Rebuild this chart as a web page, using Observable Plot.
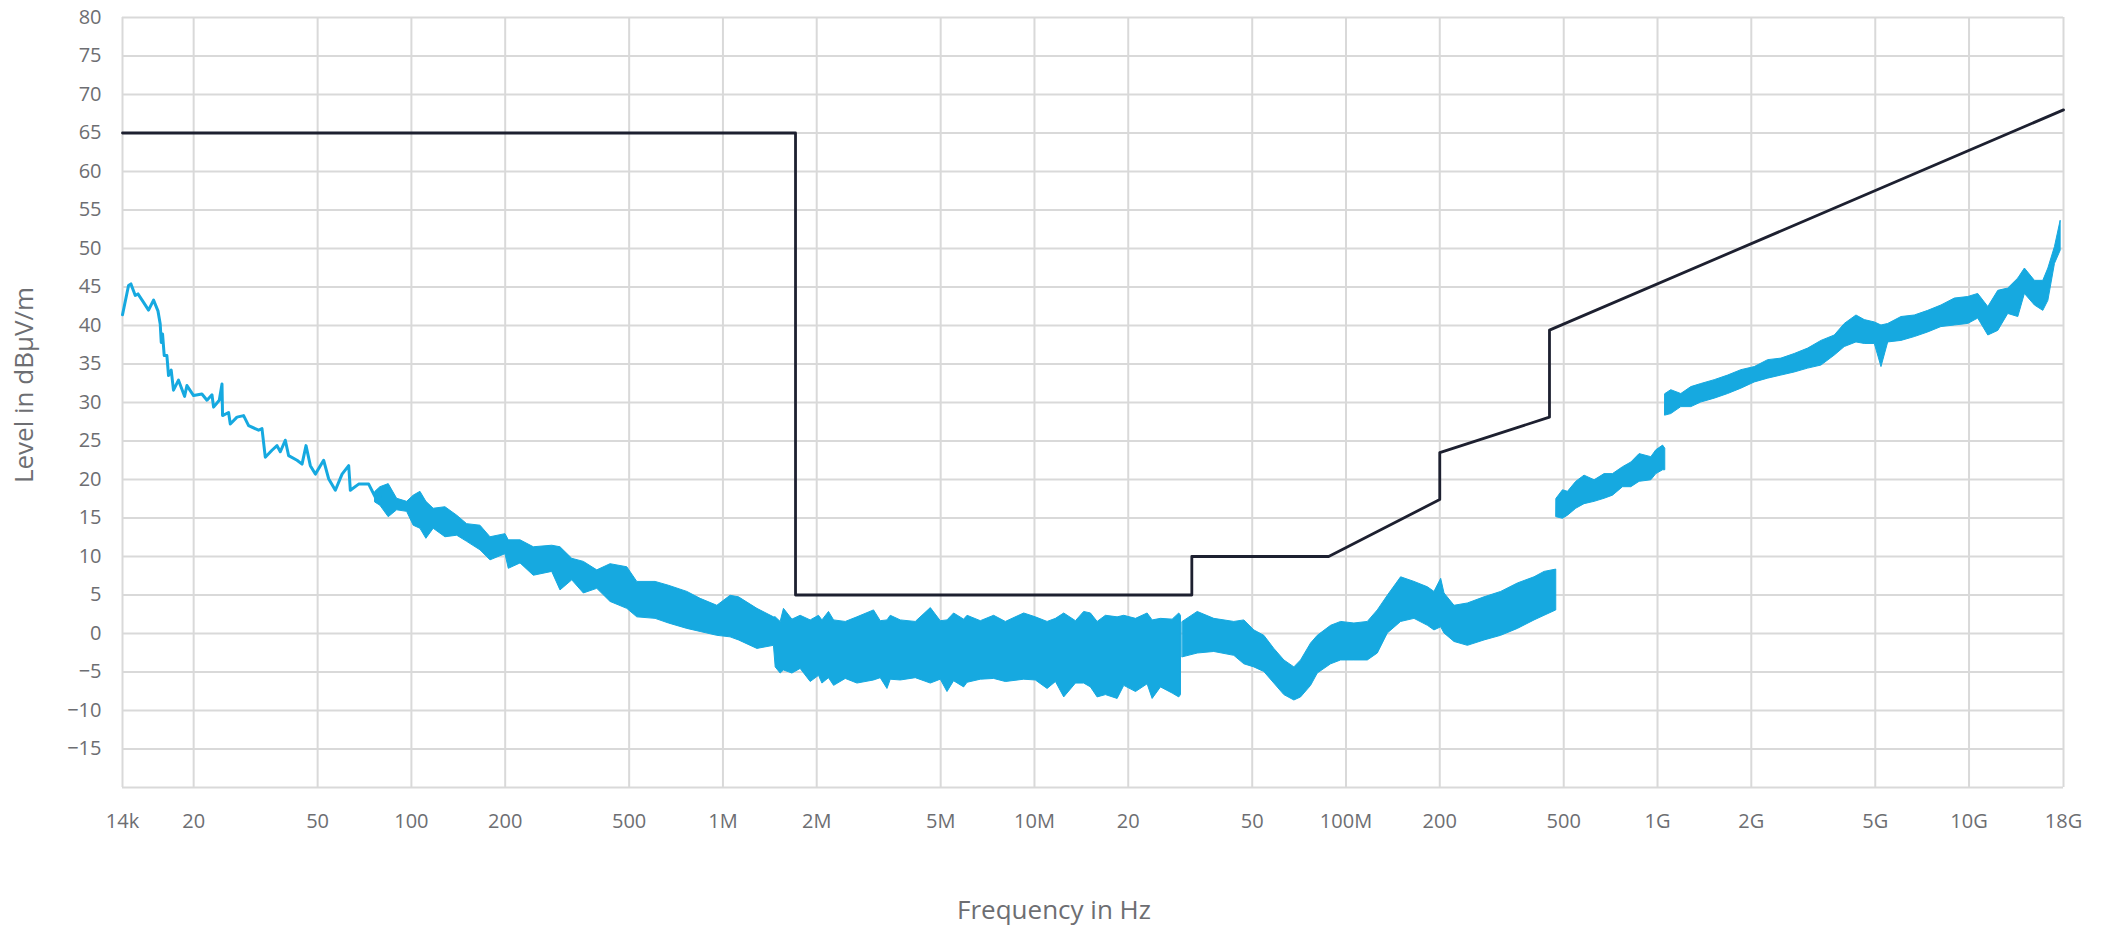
<!DOCTYPE html>
<html>
<head>
<meta charset="utf-8">
<script src="https://cdn.jsdelivr.net/npm/d3@7"></script>
<script src="https://cdn.jsdelivr.net/npm/@observablehq/plot@0.6"></script>
<style>
  html, body { margin: 0; padding: 0; background: #fff; }
  #chart { width: 2105px; height: 928px; }
</style>
</head>
<body>
<div id="chart"></div>
<script>
// ---- axis definitions ----
const xDomain = [11820, 2.01e10];
const xTickValues = [11820, 2e4, 5e4, 1e5, 2e5, 5e5, 1e6, 2e6, 5e6, 1e7, 2e7, 5e7, 1e8, 2e8, 5e8, 1e9, 2e9, 5e9, 1e10, 2.01e10];
const xTickLabels = ["14k", "20", "50", "100", "200", "500", "1M", "2M", "5M", "10M", "20", "50", "100M", "200", "500", "1G", "2G", "5G", "10G", "18G"];
const yDomain = [-20, 80];
const yGridValues = [-20, -15, -10, -5, 0, 5, 10, 15, 20, 25, 30, 35, 40, 45, 50, 55, 60, 65, 70, 75, 80];
const yTickValues = [-15, -10, -5, 0, 5, 10, 15, 20, 25, 30, 35, 40, 45, 50, 55, 60, 65, 70, 75, 80];

// ---- limit line [frequency Hz, level dBµV/m] ----
const limitLine = [
  [11820, 65], [1.71e6, 65], [1.71e6, 5], [3.2e7, 5], [3.2e7, 10], [8.8e7, 10],
  [2e8, 17.4], [2e8, 23.5], [4.5e8, 28.1], [4.5e8, 39.4], [2.01e10, 68]
];

// ---- measurement, low-frequency single trace [frequency, level] ----
const traceLow = [
  [11820,41.4],[12360,45.2],[12580,45.4],[12990,43.9],[13250,44.1],[13810,43.0],[14330,42.0],
  [14870,43.3],[15360,41.9],[15620,40.2],[15740,37.8],[15890,38.9],[16090,36.1],[16410,36.1],
  [16610,33.5],[16940,34.2],[17230,31.6],[17880,32.9],[18700,30.8],[19030,32.2],[19990,30.9],
  [21260,31.1],[22070,30.3],[22900,31.0],[23170,29.4],[24170,30.3],[24660,32.4],[24760,28.3],
  [25890,28.7],[26220,27.2],[27550,28.1],[28930,28.3],[30020,27.0],[32320,26.4],[33140,26.6],
  [33960,22.9],[35680,23.8],[37030,24.4],[37950,23.6],[39370,25.1],[40350,23.1],[42940,22.5],
  [44560,22.0],[45890,24.4],[47380,21.8],[49170,20.7],[52270,22.5],[54230,20.1],[57000,18.6],
  [59900,20.7],[62900,21.8],[63680,18.6],[67700,19.4],[72920,19.4],[76620,17.7],[79500,17.8]
];

// ---- measurement envelopes [frequency, low, high] ----
const bandA = [
  [76620,17.0,18.4],[79500,16.6,19.0],[84560,15.1,19.4],[89980,16.0,17.5],[96870,15.8,17.1],
  [101700,14.0,17.9],[106900,13.6,18.4],[111700,12.3,17.1],[117900,13.6,16.2],[128600,12.5,16.4],
  [140300,12.7,15.3],[151000,11.9,14.2],[166600,10.8,14.0],[179400,9.5,12.5],[200400,10.3,12.9],
  [205400,8.4,12.1],[224000,9.1,12.1],[247100,7.5,11.2],[283100,8.0,11.4],[301000,5.6,11.2],
  [328300,6.9,9.7],[357700,5.2,9.3],[395000,5.8,8.2],[435800,4.1,9.0],[493100,3.2,8.6],
  [530900,2.1,6.7],[607900,1.9,6.7],[670900,1.3,6.2],[768600,0.6,5.4],[848000,0.2,4.5],
  [959400,-0.3,3.6],[1058000,-0.5,4.9],[1126000,-0.9,4.7],[1290000,-2.0,3.2],[1458000,-1.6,2.1],
  [1477000,-4.4,2.1],[1532000,-5.2,1.5],[1570000,-4.8,3.2],[1671000,-5.2,1.8],[1776000,-4.6,2.3],
  [1913000,-6.3,1.7],[2034000,-5.5,2.3],[2086000,-6.5,1.7],[2190000,-5.8,2.8],[2274000,-6.8,1.7],
  [2479000,-5.9,1.5],[2702000,-6.5,2.1],[3055000,-6.1,3.0],[3210000,-5.8,1.6],[3374000,-7.2,1.7],
  [3457000,-6.0,2.3],[3723000,-6.1,1.7],[4159000,-5.8,1.5],[4648000,-6.5,3.3],[5003000,-6.0,1.6],
  [5258000,-7.6,1.7],[5521000,-6.2,2.6],[5946000,-7.0,1.8],[6098000,-6.4,2.3],[6726000,-6.0,1.6],
  [7421000,-5.9,2.3],[8093000,-6.3,1.5],[9268000,-6.0,2.6],[10100000,-6.1,2.1],[11020000,-7.2,1.5],
  [11720000,-6.3,1.9],[12460000,-8.3,2.6],[13590000,-6.5,1.6],[14440000,-6.5,2.8],[15180000,-7.0,2.6],
  [15950000,-8.3,1.5],[16960000,-8.0,2.3],[18490000,-8.5,2.1],[19420000,-6.8,2.3],[21180000,-7.6,1.9],
  [23080000,-6.6,2.6],[23950000,-8.5,1.7],[25470000,-7.0,1.9],[27770000,-7.8,1.8],[29160000,-8.3,2.6],
  [29530000,-8.0,2.3]
];
const bandB = [
  [29910000,-3.1,1.5],[33420000,-2.6,2.8],[37780000,-2.4,1.9],[43800000,-2.9,1.5],[47170000,-4.0,1.7],
  [50780000,-4.4,0.4],[54680000,-5.0,-0.3],[58880000,-6.5,-2.0],[63410000,-8.0,-3.5],[68280000,-8.7,-4.4],
  [71740000,-8.3,-3.5],[77250000,-6.8,-1.3],[81180000,-5.2,-0.3],[89570000,-4.0,1.0],[96450000,-3.5,1.5],
  [106400000,-3.5,1.3],[117500000,-3.5,1.5],[126500000,-2.6,3.0],[136200000,0.0,4.9],[150300000,1.5,7.3],
  [165900000,1.9,6.7],[183200000,1.0,6.0],[192300000,0.4,5.4],[202100000,0.8,7.1],[207100000,0.0,5.2],
  [223000000,-1.1,3.6],[246200000,-1.6,3.9],[278400000,-0.9,4.7],[314900000,-0.3,5.4],[356400000,0.6,6.5],
  [402900000,1.7,7.3],[433900000,2.3,8.0],[473100000,3.0,8.3]
];
const bandC = [
  [474000000,15.1,17.5],[497200000,14.9,18.6],[515900000,15.3,18.4],[548400000,16.2,19.7],
  [583100000,16.8,20.5],[628100000,17.1,19.9],[676100000,17.5,20.7],[719500000,17.9,20.7],
  [774900000,19.0,21.6],[823900000,19.0,22.2],[876000000,19.7,23.3],[955200000,19.9,22.9],
  [991300000,20.7,23.8],[1042000000,21.2,24.4],[1059000000,21.2,24.0]
];
const bandD = [
  [1060000000,28.3,31.1],[1107000000,28.5,31.6],[1192000000,29.4,31.1],[1284000000,29.4,32.0],
  [1382000000,30.0,32.4],[1526000000,30.5,32.9],[1685000000,31.1,33.5],[1859000000,31.8,34.2],
  [2051000000,32.6,34.6],[2265000000,33.1,35.5],[2498000000,33.5,35.7],[2757000000,33.9,36.3],
  [3044000000,34.4,37.0],[3359000000,34.8,38.0],[3707000000,36.1,38.7],[3990000000,37.2,40.2],
  [4351000000,37.8,41.3],[4627000000,37.6,40.7],[4983000000,37.6,40.4],[5235000000,34.6,40.0],
  [5501000000,37.8,40.2],[6069000000,38.0,41.1],[6697000000,38.5,41.3],[7393000000,39.1,41.9],
  [8155000000,39.8,42.6],[9002000000,40.0,43.5],[9940000000,40.2,43.7],[10700000000,40.9,44.1],
  [11530000000,38.7,42.4],[12410000000,39.3,44.5],[13360000000,41.5,44.8],[14390000000,41.1,46.1],
  [15110000000,44.1,47.4],[16270000000,42.6,45.8],[17310000000,41.9,45.8],[17970000000,43.2,47.4],
  [18870000000,48.0,50.2],[19680000000,49.7,53.6]
];

// ---- build tables for the library ----
const bands = [];
[["A", bandA], ["B", bandB], ["C", bandC], ["D", bandD]].forEach(([seg, arr]) => {
  arr.forEach(([f, lo, hi]) => bands.push({seg, f, lo, hi}));
});
const trace = traceLow.map(([f, v]) => ({f, v}));
const limit = limitLine.map(([f, v]) => ({f, v}));
const xTicks = xTickValues.map((v, i) => ({v, label: xTickLabels[i]}));

const BLUE = "#16a9e0";
const DARK = "#1d2030";
const GRID = "#d9d9d9";
const TEXT = "#6d6e72";

const chart = Plot.plot({
  width: 2105,
  height: 928,
  marginLeft: 122,
  marginRight: 42,
  marginTop: 17,
  marginBottom: 141,
  style: {fontFamily: "'Open Sans', sans-serif", fontSize: "20px", color: TEXT, background: "#fff"},
  x: {type: "log", domain: xDomain, axis: null},
  y: {domain: yDomain, axis: null},
  marks: [
    Plot.gridX(xTickValues, {stroke: GRID, strokeOpacity: 1, strokeWidth: 2}),
    Plot.gridY(yGridValues, {stroke: GRID, strokeOpacity: 1, strokeWidth: 2}),
    Plot.areaY(bands, {x: "f", y1: "lo", y2: "hi", z: "seg", fill: BLUE, stroke: BLUE, strokeWidth: 1}),
    Plot.line(trace, {x: "f", y: "v", stroke: BLUE, strokeWidth: 3}),
    Plot.line(limit, {x: "f", y: "v", stroke: DARK, strokeWidth: 2.8}),
    Plot.text(xTicks, {x: "v", text: "label", frameAnchor: "bottom", lineAnchor: "top", dy: 26, fontSize: 20, fill: TEXT}),
    Plot.axisY(yTickValues, {tickSize: 0, tickPadding: 21, fontSize: 20, fill: TEXT, label: null})
  ]
});

const svg = d3.select(chart);
svg.append("text")
  .attr("x", 1054).attr("y", 919)
  .attr("text-anchor", "middle")
  .attr("font-size", 26)
  .attr("fill", TEXT)
  .text("Frequency in Hz");
svg.append("text")
  .attr("transform", "translate(33,385) rotate(-90)")
  .attr("text-anchor", "middle")
  .attr("font-size", 26)
  .attr("fill", TEXT)
  .text("Level in dBμV/m");

document.getElementById("chart").appendChild(chart);
</script>
</body>
</html>
